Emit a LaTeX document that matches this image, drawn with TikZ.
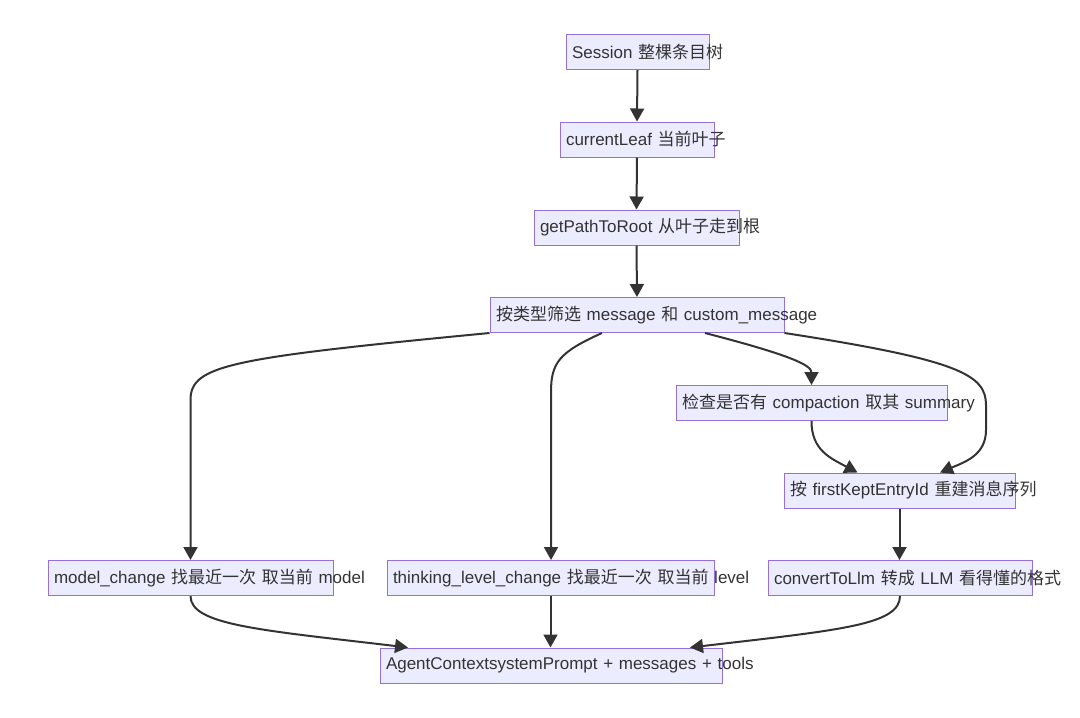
\documentclass[tikz,border=0pt]{standalone}
\usepackage{fontspec}
\setmainfont{Liberation Sans}
\newfontfamily\zh{Noto Sans CJK SC}
\usetikzlibrary{arrows.meta}
\definecolor{boxfill}{HTML}{ECECFF}
\definecolor{boxline}{HTML}{9370DB}
\definecolor{edge}{HTML}{333333}
\begin{document}
\begin{tikzpicture}[x=1pt,y=-1pt]
\tikzstyle{every node}+=[inner sep=0pt]
\tikzstyle{box}=[draw=boxline, line width=1pt, fill=boxfill, text=edge, inner xsep=6pt, inner ysep=0pt, text width=#1, align=left, minimum height=35pt, font=\fontsize{17}{20}\selectfont]
\tikzstyle{arr}=[draw=edge, line width=2pt, -{Triangle[length=13pt,width=14pt]}]
\useasboundingbox (0,0) rectangle (1080,718);
\node [box=131pt] (sess) at (637.5,52) {\mbox{Session {\zh 整棵条目树}}};
\node [box=142pt] (leaf) at (637,139.5) {\mbox{currentLeaf {\zh 当前叶子}}};
\node [box=193pt] (path) at (636.5,227.5) {\mbox{getPathToRoot {\zh 从叶子走到根}}};
\node [box=282pt] (filt) at (637,315) {\mbox{{\zh 按类型筛选} message {\zh 和} custom\_message}};
\node [box=259pt] (comp) at (811.5,403) {\mbox{{\zh 检查是否有} compaction {\zh 取其} summary}};
\node [box=219pt] (kept) at (899.5,490.5) {\mbox{{\zh 按} firstKeptEntryId {\zh 重建消息序列}}};
\node [box=273pt] (model) at (190.5,578) {\mbox{model\_change {\zh 找最近一次 取当前} model}};
\node [box=315pt] (think) at (550.5,578) {\mbox{thinking\_level\_change {\zh 找最近一次 取当前} level}};
\node [box=252pt] (conv) at (900,578) {\mbox{convertToLlm {\zh 转成} LLM {\zh 看得懂的格式}}};
\node [box=330pt] (agent) at (551,665.5) {\mbox{AgentContextsystemPrompt + messages + tools}};
\draw [arr] (sess.south) -- (leaf.north);
\draw [arr] (leaf.south) -- (path.north);
\draw [arr] (path.south) -- (filt.north);
\draw [arr] (filt.south west) .. controls (230,358) and (190.5,365) .. (190.5,400) -- (model.north);
\draw [arr] ([xshift=-35pt]filt.south) .. controls (560,352) and (551,362) .. (551,392) -- ([xshift=0.5pt]think.north);
\draw [arr] ([xshift=68pt]filt.south) .. controls (790,355) and (811.5,365) .. (comp.north);
\draw [arr] (filt.south east) .. controls (960,360) and (986,375) .. (986,405) -- (986,430) .. controls (986,455) and (965,462) .. ([xshift=40.5pt]kept.north);
\draw [arr] (comp.south) .. controls (811.5,450) and (830,458) .. ([xshift=-42pt]kept.north);
\draw [arr] (kept.south) -- (kept.south |- conv.north);
\draw [arr] (model.south) .. controls (190.5,625) and (260,630) .. ([xshift=-143pt]agent.north);
\draw [arr] (think.south) -- (think.south |- agent.north);
\draw [arr] (conv.south) .. controls (900,625) and (840,630) .. ([xshift=139pt]agent.north);
\end{tikzpicture}
\end{document}
